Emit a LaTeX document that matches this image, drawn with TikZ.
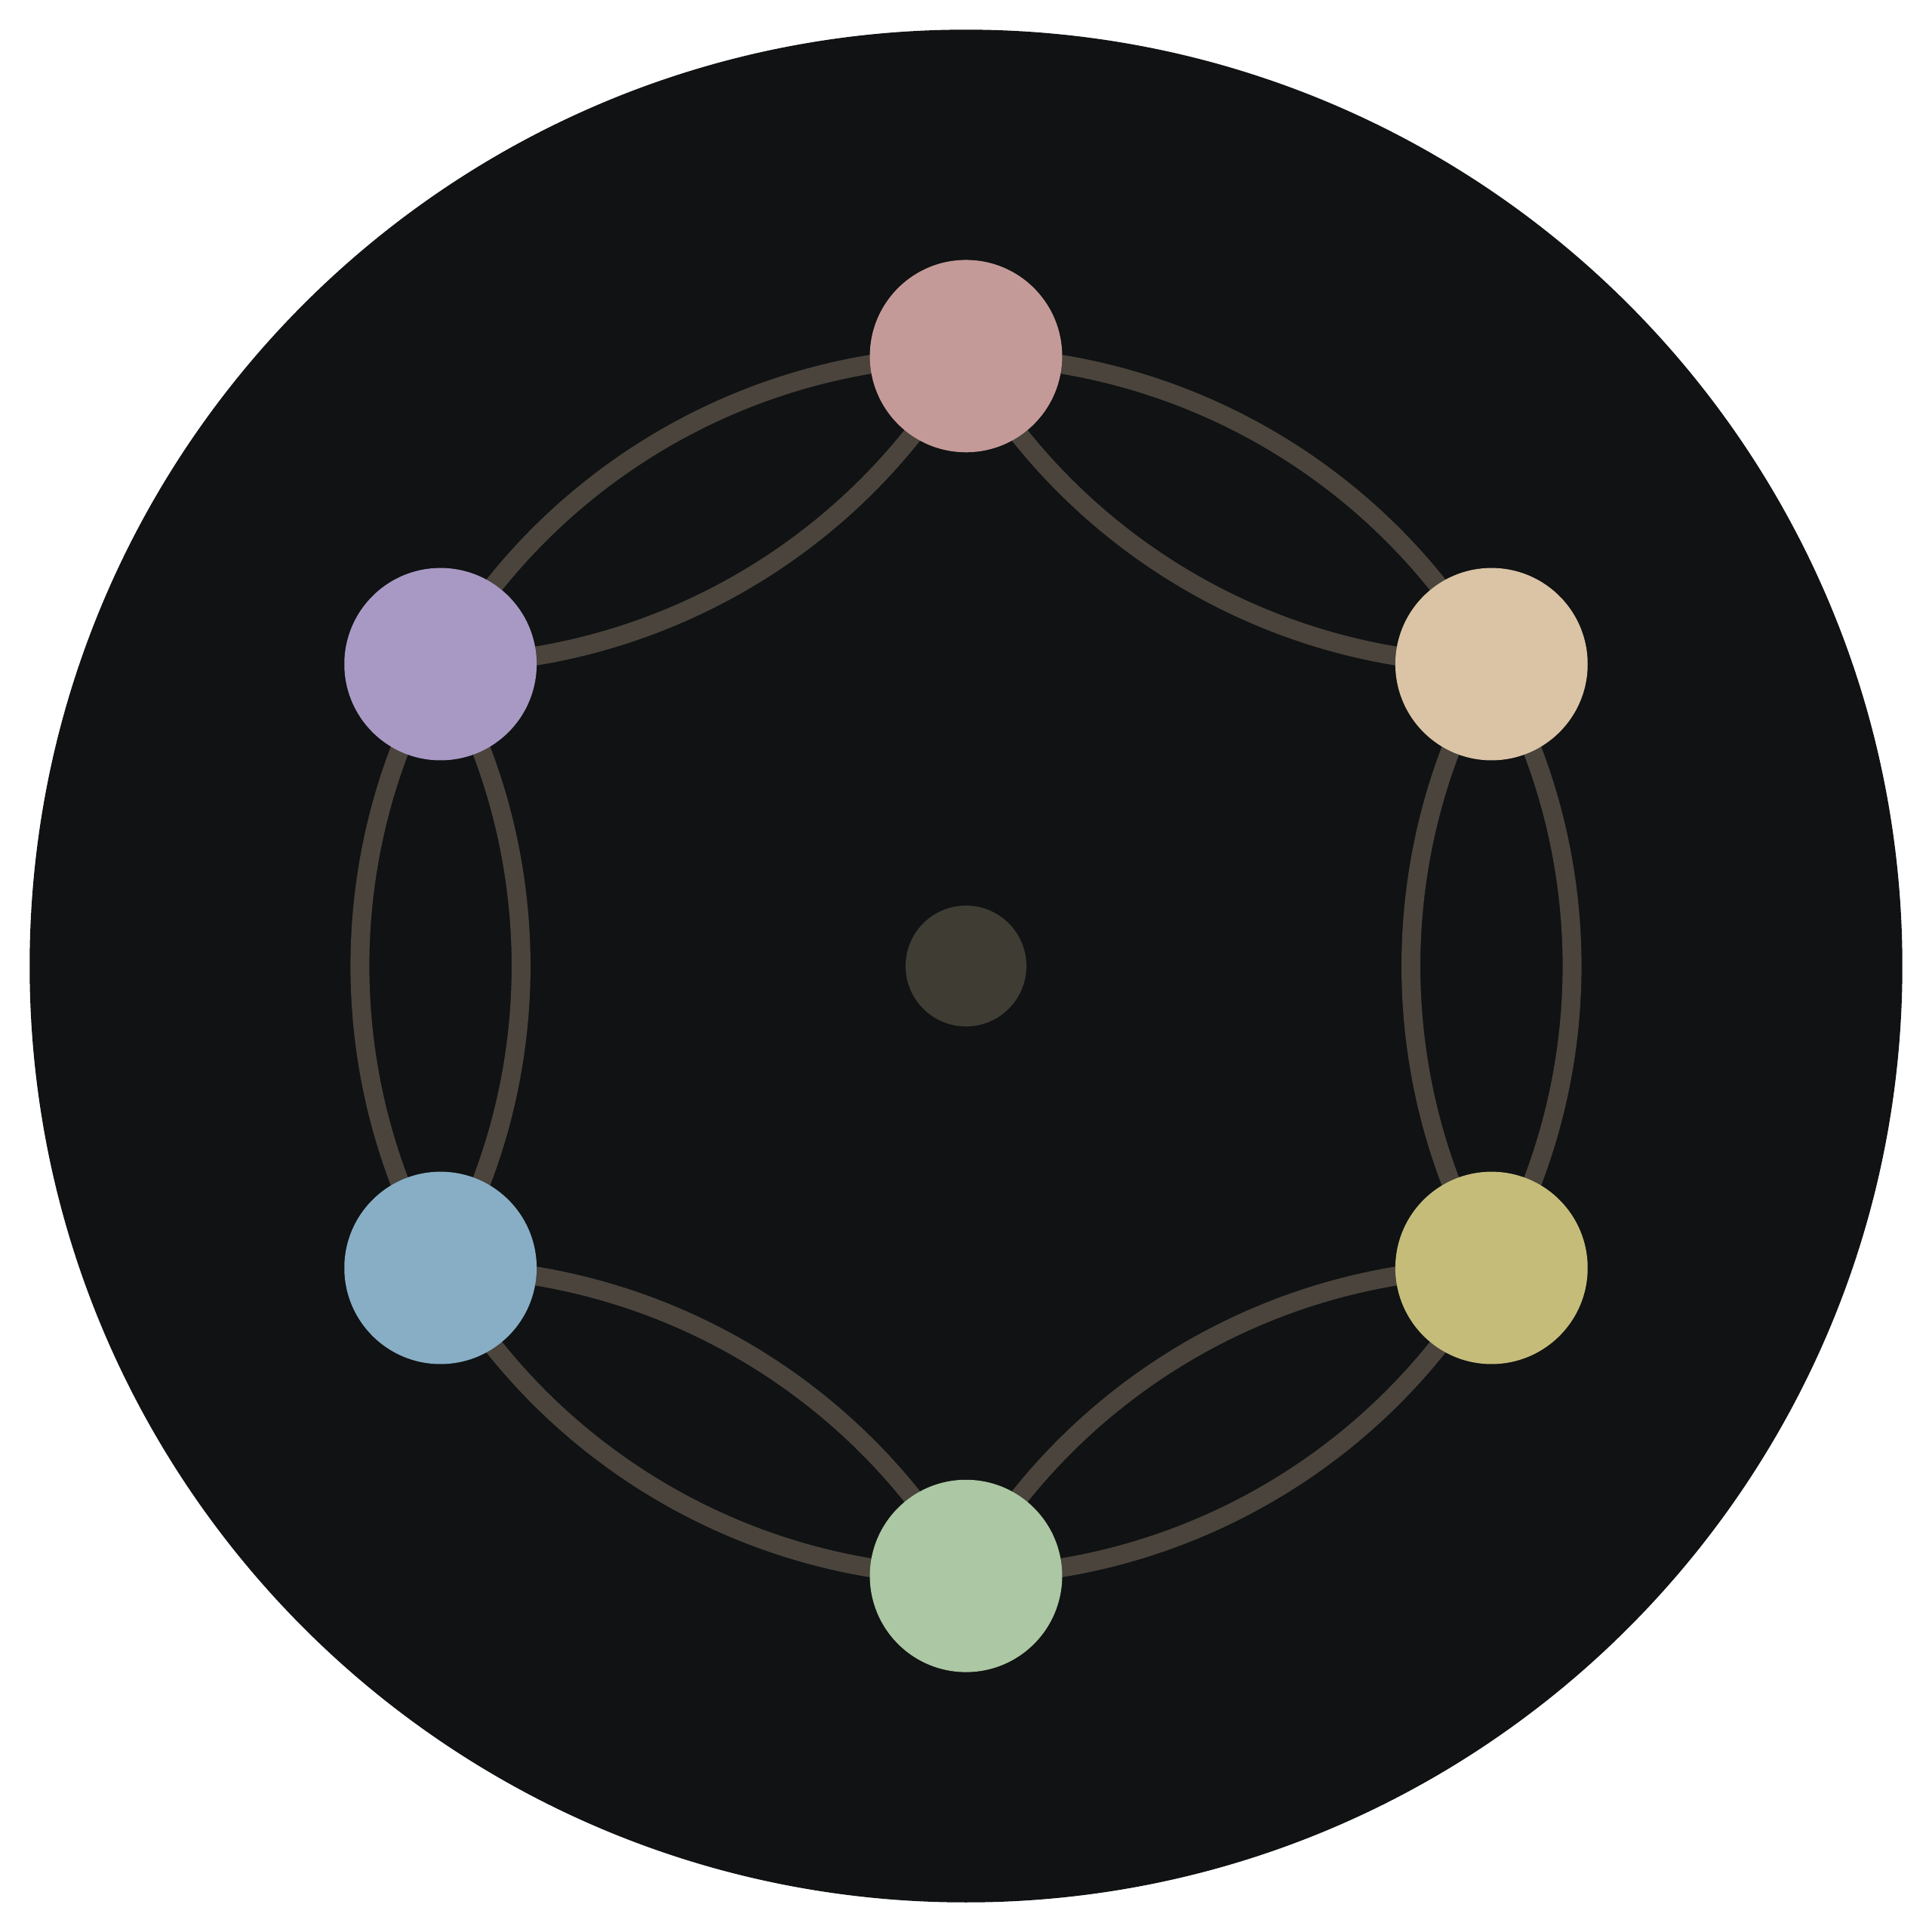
\documentclass[tikz,border=0pt]{standalone}
\usetikzlibrary{calc}
\definecolor{bgdark}{HTML}{101213}
\definecolor{edgec}{HTML}{4A443C}
\definecolor{cdot}{HTML}{3F3C34}
\definecolor{cA}{HTML}{C49A98}
\definecolor{cB}{HTML}{DAC4A5}
\definecolor{cC}{HTML}{C5BC7A}
\definecolor{cD}{HTML}{ABC7A3}
\definecolor{cE}{HTML}{88AEC6}
\definecolor{cF}{HTML}{A899C4}
\begin{document}
\begin{tikzpicture}[x=0.01cm,y=-0.01cm,
  ball/.style={circle,inner sep=0pt,minimum size=1.56cm,draw=none},
  link/.style={draw=edgec,line width=0.153cm},
  inl/.style={link,bend left=30,looseness=0.9126},
  outl/.style={link,bend right=30,looseness=0.9126}]
\useasboundingbox (0,0) rectangle (1568,1568);
\fill[white] (0,0) rectangle (1568,1568);
\fill[bgdark] (784,784) circle[radius=7.595cm];
\coordinate (c) at (784,784);
\path (c) ++(0,-495) coordinate (A);
\path (c) ++(426.5,-245) coordinate (B);
\path (c) ++(426.5,245) coordinate (C);
\path (c) ++(0,495) coordinate (D);
\path (c) ++(-426.5,245) coordinate (E);
\path (c) ++(-426.5,-245) coordinate (F);
\foreach \u/\v in {A/B,B/C,C/D,D/E,E/F,F/A}{
  \draw[inl] (\u) to (\v);
  \draw[outl] (\u) to (\v);
}
\node[ball,fill=cA] (nA) at (A) {};
\node[ball,fill=cB] (nB) at (B) {};
\node[ball,fill=cC] (nC) at (C) {};
\node[ball,fill=cD] (nD) at (D) {};
\node[ball,fill=cE] (nE) at (E) {};
\node[ball,fill=cF] (nF) at (F) {};
\node[circle,inner sep=0pt,minimum size=0.98cm,fill=cdot] (hub) at (c) {};
\end{tikzpicture}
\end{document}
